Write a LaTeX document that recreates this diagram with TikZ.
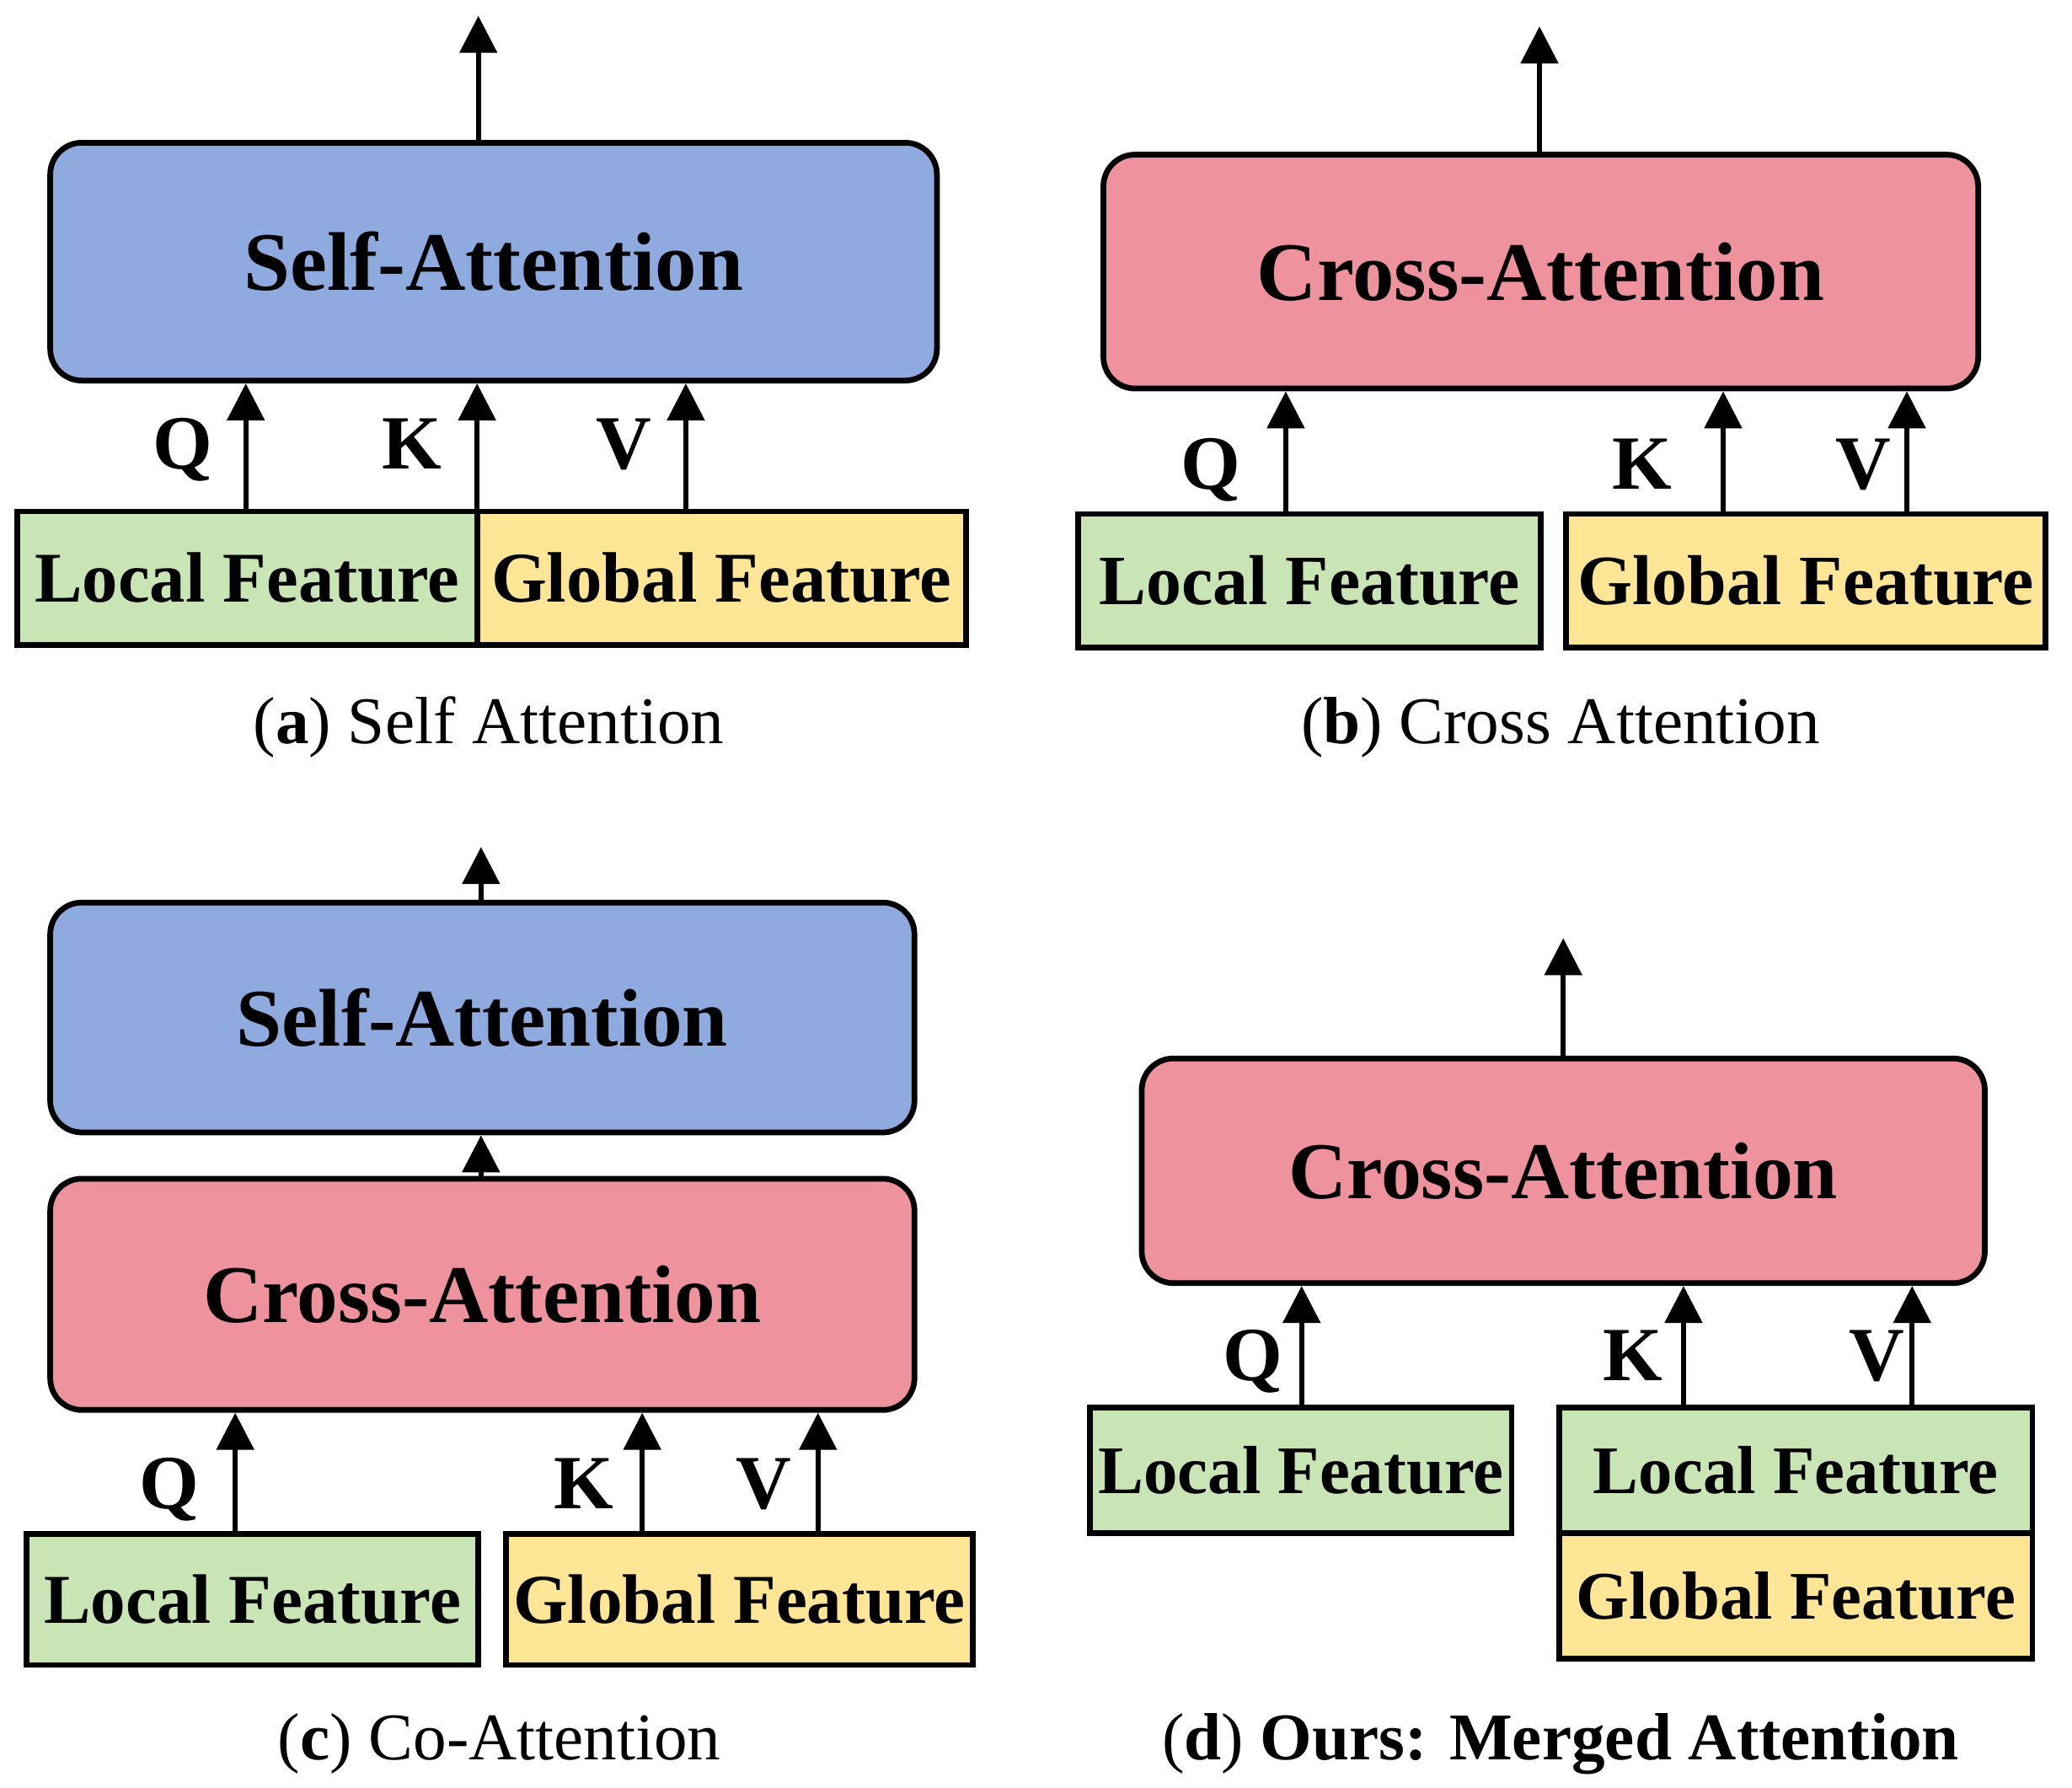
\documentclass[tikz,border=0pt]{standalone}
\usepackage{fontspec}
\setmainfont{Liberation Serif}
\usetikzlibrary{arrows.meta}
\definecolor{attblue}{HTML}{8FAADF}
\definecolor{attpink}{HTML}{EE929D}
\definecolor{featgreen}{HTML}{C9E4B5}
\definecolor{featyellow}{HTML}{FFE596}
\begin{document}
\begin{tikzpicture}[x=1pt,y=-1pt,
  blk/.style={draw=black, line width=4.3pt, rounded corners=24pt, inner sep=0pt},
  sablk/.style={blk, fill=attblue},
  cablk/.style={blk, fill=attpink},
  feat/.style={draw=black, line width=4.3pt, inner sep=0pt},
  lfeat/.style={feat, fill=featgreen},
  gfeat/.style={feat, fill=featyellow},
  arr/.style={line width=3.6pt, -{Triangle[width=28pt,length=28pt]}},
  lbl/.style={font=\fontsize{58}{64}\selectfont\bfseries, anchor=base, inner sep=0pt},
  captxt/.style={font=\fontsize{50.5}{56}\selectfont, anchor=base, inner sep=0pt}]
\useasboundingbox (0,0) rectangle (1568,1353);

% ---------------- (a) ----------------
\node[sablk, minimum width=671pt, minimum height=180pt,
      font=\fontsize{63}{70}\selectfont\bfseries] (aSA) at (373.5,198) {Self-Attention};
\node[lfeat, minimum width=348pt, minimum height=101pt,
      font=\fontsize{54}{60}\selectfont\bfseries] (aL) at (187,437.5) {Local Feature};
\node[gfeat, minimum width=370pt, minimum height=101pt,
      font=\fontsize{54}{60}\selectfont\bfseries] (aG) at (546,437.5) {Global Feature};
\coordinate (aOut) at (362,12);
\coordinate (aQx) at (186,0);
\coordinate (aKx) at (361,0);
\coordinate (aVx) at (519,0);
\draw[arr] (aSA.north -| aOut) -- (aOut);
\draw[arr] (aL.north -| aQx) -- (aSA.south -| aQx);
\draw[arr] (aL.north -| aKx) -- (aSA.south -| aKx);
\draw[arr] (aG.north -| aVx) -- (aSA.south -| aVx);
\node[lbl] (aQ) at (138,355) {Q};
\node[lbl] (aK) at (312,355) {K};
\node[lbl] (aV) at (472,355) {V};
\node[captxt] (aCap) at (370,563) {(\textbf{a}) Self Attention};

% ---------------- (b) ----------------
\node[cablk, minimum width=662pt, minimum height=177pt,
      font=\fontsize{63}{70}\selectfont\bfseries] (bCA) at (1166,205.5) {Cross-Attention};
\node[lfeat, minimum width=350pt, minimum height=101pt,
      font=\fontsize{53.5}{60}\selectfont\bfseries] (bL) at (991,439.5) {Local Feature};
\node[gfeat, minimum width=363pt, minimum height=101pt,
      font=\fontsize{53.5}{60}\selectfont\bfseries] (bG) at (1366.5,439.5) {Global Feature};
\coordinate (bOut) at (1165,20);
\coordinate (bQx) at (973,0);
\coordinate (bKx) at (1304,0);
\coordinate (bVx) at (1443,0);
\draw[arr] (bCA.north -| bOut) -- (bOut);
\draw[arr] (bL.north -| bQx) -- (bCA.south -| bQx);
\draw[arr] (bG.north -| bKx) -- (bCA.south -| bKx);
\draw[arr] (bG.north -| bVx) -- (bCA.south -| bVx);
\node[lbl] (bQ) at (916,370) {Q};
\node[lbl] (bK) at (1243,370) {K};
\node[lbl] (bV) at (1410,370) {V};
\node[captxt] (bCap) at (1181,563) {(\textbf{b}) Cross Attention};

% ---------------- (c) ----------------
\node[sablk, minimum width=654pt, minimum height=174pt,
      font=\fontsize{62}{68}\selectfont\bfseries] (cSA) at (365,770) {Self-Attention};
\node[cablk, minimum width=654pt, minimum height=175pt,
      font=\fontsize{62}{68}\selectfont\bfseries] (cCA) at (365,979.5) {Cross-Attention};
\node[lfeat, minimum width=342pt, minimum height=99pt,
      font=\fontsize{53}{60}\selectfont\bfseries] (cL) at (191,1210.5) {Local Feature};
\node[gfeat, minimum width=353pt, minimum height=99pt,
      font=\fontsize{53}{60}\selectfont\bfseries] (cG) at (559.5,1210.5) {Global Feature};
\coordinate (cOut) at (364,641);
\coordinate (cMidx) at (364,0);
\coordinate (cQx) at (178,0);
\coordinate (cKx) at (486,0);
\coordinate (cVx) at (619,0);
\draw[arr] (cSA.north -| cOut) -- (cOut);
\draw[arr] (cCA.north -| cMidx) -- (cSA.south -| cMidx);
\draw[arr] (cL.north -| cQx) -- (cCA.south -| cQx);
\draw[arr] (cG.north -| cKx) -- (cCA.south -| cKx);
\draw[arr] (cG.north -| cVx) -- (cCA.south -| cVx);
\node[lbl] (cQ) at (128,1142) {Q};
\node[lbl] (cK) at (442,1142) {K};
\node[lbl] (cV) at (578,1142) {V};
\node[captxt] (cCap) at (378,1332) {(\textbf{c}) Co-Attention};

% ---------------- (d) ----------------
\node[cablk, minimum width=638pt, minimum height=170pt,
      font=\fontsize{61}{68}\selectfont\bfseries] (dCA) at (1183,886) {Cross-Attention};
\node[lfeat, minimum width=319pt, minimum height=95pt,
      font=\fontsize{51.5}{58}\selectfont\bfseries] (dL) at (984.5,1112.5) {Local Feature};
\node[lfeat, minimum width=358pt, minimum height=95pt,
      font=\fontsize{51.5}{58}\selectfont\bfseries] (dL2) at (1359,1112.5) {Local Feature};
\node[gfeat, minimum width=358pt, minimum height=95pt,
      font=\fontsize{51.5}{58}\selectfont\bfseries] (dG) at (1359,1207.5) {Global Feature};
\coordinate (dOut) at (1183,710);
\coordinate (dQx) at (985,0);
\coordinate (dKx) at (1274,0);
\coordinate (dVx) at (1447,0);
\draw[arr] (dCA.north -| dOut) -- (dOut);
\draw[arr] (dL.north -| dQx) -- (dCA.south -| dQx);
\draw[arr] (dL2.north -| dKx) -- (dCA.south -| dKx);
\draw[arr] (dL2.north -| dVx) -- (dCA.south -| dVx);
\node[lbl] (dQ) at (948,1045) {Q};
\node[lbl] (dK) at (1236,1045) {K};
\node[lbl] (dV) at (1420,1045) {V};
\node[captxt] (dCap) at (1181,1332) {(\textbf{d}) \textbf{Ours: Merged Attention}};
\end{tikzpicture}
\end{document}
